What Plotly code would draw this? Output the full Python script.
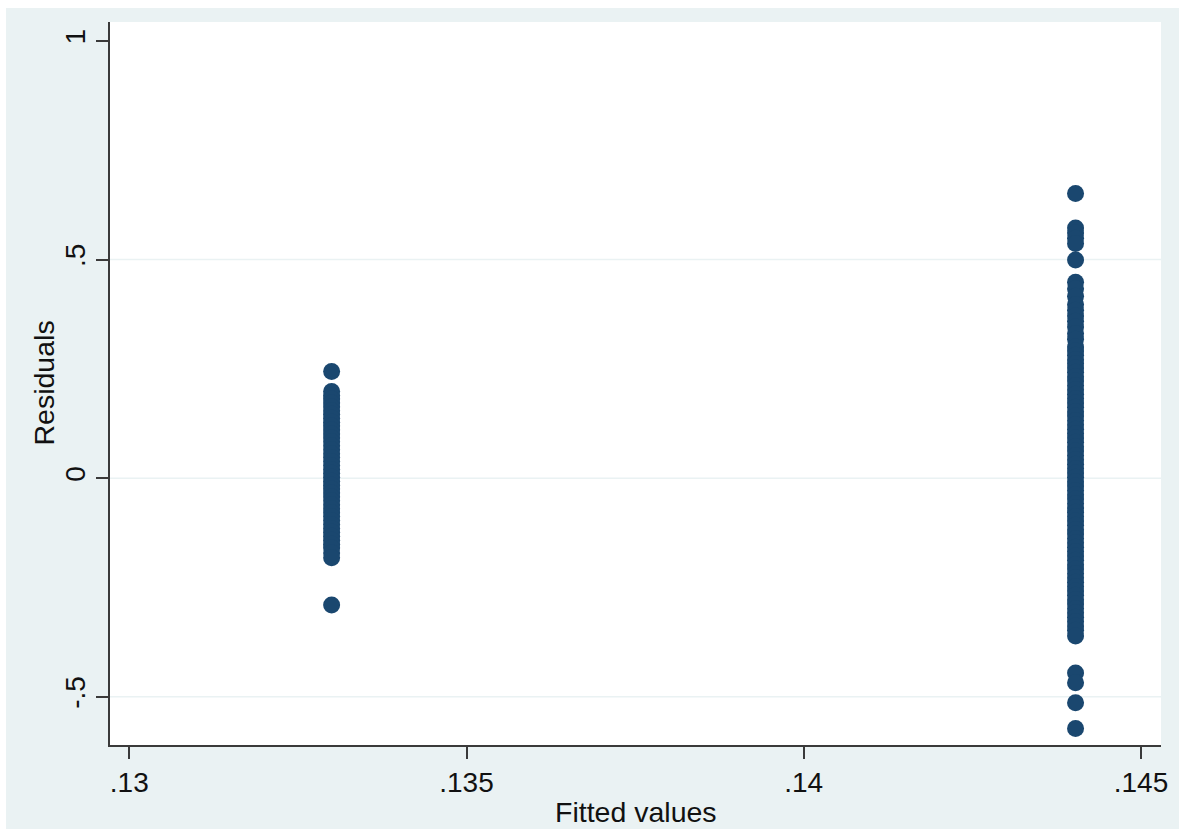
import plotly.graph_objects as go

# Fitted value of each group (x) and the residuals (y)
FITTED = [0.1330, 0.14403]

RESID_LOW = [
    0.244, 0.198, 0.189, 0.181, 0.172, 0.163, 0.154, 0.146, 0.137, 0.128,
    0.119, 0.110, 0.101, 0.092, 0.083, 0.074, 0.065, 0.056, 0.047, 0.038,
    0.029, 0.020, 0.011, 0.002, -0.007, -0.016, -0.025, -0.034, -0.043,
    -0.052, -0.061, -0.070, -0.079, -0.088, -0.097, -0.106, -0.115, -0.124,
    -0.133, -0.142, -0.151, -0.160, -0.171, -0.182, -0.290,
]

RESID_HIGH = [
    0.651, 0.572, 0.561, 0.549, 0.537, 0.499, 0.448, 0.433, 0.416, 0.397,
    0.384, 0.371, 0.359, 0.346, 0.331, 0.318, 0.300, 0.291, 0.281, 0.271,
    0.262, 0.252, 0.242, 0.232, 0.222, 0.212, 0.202, 0.192, 0.182, 0.172,
    0.162, 0.152, 0.142, 0.132, 0.122, 0.112, 0.102, 0.092, 0.082, 0.072,
    0.062, 0.052, 0.042, 0.032, 0.022, 0.012, 0.002, -0.008, -0.018, -0.028,
    -0.038, -0.048, -0.058, -0.068, -0.078, -0.088, -0.098, -0.108, -0.118,
    -0.128, -0.138, -0.148, -0.158, -0.168, -0.178, -0.188, -0.198, -0.208,
    -0.218, -0.228, -0.238, -0.248, -0.258, -0.268, -0.278, -0.288, -0.298,
    -0.308, -0.318, -0.328, -0.338, -0.348, -0.361, -0.446, -0.468, -0.514,
    -0.573,
]

X_TICKS = [0.13, 0.135, 0.14, 0.145]
X_TICK_TEXT = [".13", ".135", ".14", ".145"]
Y_TICKS = [-0.5, 0, 0.5, 1]
Y_TICK_TEXT = ["-.5", "0", ".5", "1"]
GRID_Y = [-0.5, 0, 0.5]

NAVY = "#1a476f"
BG = "#eaf2f3"
AXIS = "#3a3a3a"
FONT = "Liberation Sans, Arial, sans-serif"

xs = [FITTED[0]] * len(RESID_LOW) + [FITTED[1]] * len(RESID_HIGH)
ys = RESID_LOW + RESID_HIGH

fig = go.Figure()
fig.add_trace(go.Scatter(
    x=xs, y=ys, mode="markers",
    marker=dict(size=17, color=NAVY, line=dict(width=0)),
    showlegend=False, hoverinfo="x+y",
))

L, R, T, B = 110, 18, 22, 84
W, H = 1179, 829
pw, ph = W - L - R, H - T - B

shapes = [
    # white inner plot region
    dict(type="rect", xref="paper", yref="paper", layer="below",
         x0=0, x1=1, y0=0, y1=1, fillcolor="white", line=dict(width=0)),
    # thin white border strips at the left and top edges of the image
    dict(type="rect", xref="paper", yref="paper", layer="below",
         x0=-L / pw - 0.01, x1=-(L - 6) / pw, y0=-B / ph - 0.01, y1=1 + T / ph + 0.01,
         fillcolor="white", line=dict(width=0)),
    dict(type="rect", xref="paper", yref="paper", layer="below",
         x0=-L / pw - 0.01, x1=1 + R / pw + 0.01, y0=1 + (T - 8) / ph, y1=1 + T / ph + 0.01,
         fillcolor="white", line=dict(width=0)),
]
for g in GRID_Y:
    shapes.append(dict(
        type="line", xref="paper", yref="y", layer="below",
        x0=0, x1=1, y0=g, y1=g,
        line=dict(color=BG, width=1.5),
    ))

annotations = [
    dict(text="Fitted values", xref="paper", yref="paper",
         x=0.5, y=(B - (H - 812)) / -ph, xanchor="center", yanchor="middle",
         showarrow=False, font=dict(size=28.5)),
    dict(text="Residuals", xref="paper", yref="paper",
         x=(43 - L) / pw, y=0.5, xanchor="center", yanchor="middle",
         textangle=-90, showarrow=False, font=dict(size=28.5)),
]

fig.update_layout(
    width=W, height=H,
    margin=dict(l=L, r=R, t=T, b=B, pad=0),
    paper_bgcolor=BG, plot_bgcolor="white",
    font=dict(family=FONT, size=28, color="#111111"),
    shapes=shapes,
    annotations=annotations,
    xaxis=dict(
        range=[0.129714, 0.145297], tickvals=X_TICKS, ticktext=X_TICK_TEXT,
        showgrid=False, zeroline=False,
        showline=True, linecolor=AXIS, linewidth=1.6,
        ticks="outside", ticklen=12, tickwidth=1.6, tickcolor=AXIS,
        tickfont=dict(size=28),
    ),
    yaxis=dict(
        range=[-0.6105, 1.0435], tickvals=Y_TICKS, ticktext=Y_TICK_TEXT,
        tickangle=-90,
        showgrid=False, zeroline=False,
        showline=True, linecolor=AXIS, linewidth=1.6,
        ticks="outside", ticklen=12, tickwidth=1.6, tickcolor=AXIS,
        tickfont=dict(size=28),
    ),
)

fig.write_html("out.html")
